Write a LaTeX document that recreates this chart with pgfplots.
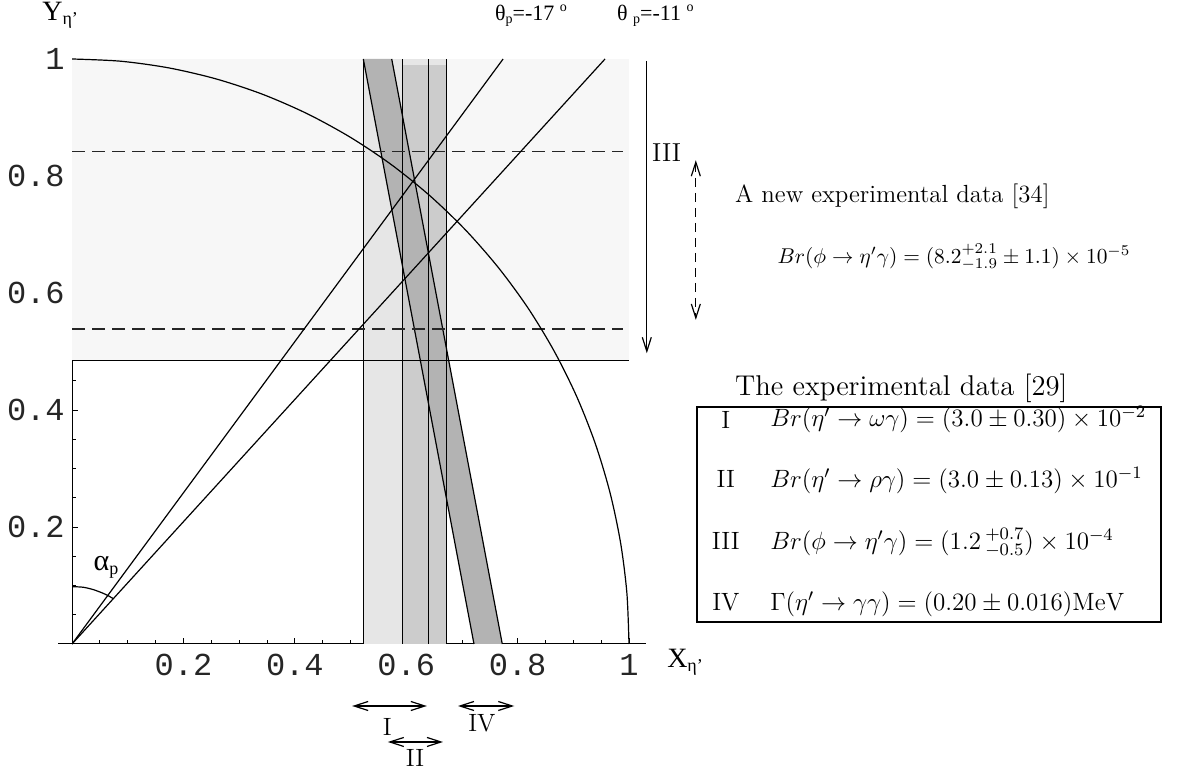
\RequirePackage{fix-cm}
\documentclass[border=0pt]{standalone}
\usepackage{fontspec}
\usepackage{pgfplots}
\pgfplotsset{compat=1.18}
\usetikzlibrary{arrows.meta}
\newfontfamily\tms{Liberation Serif}
\newfontfamily\cour{Liberation Mono}
\definecolor{bgband}{HTML}{F7F7F7}
\definecolor{bandI}{HTML}{E6E6E6}
\definecolor{bandII}{HTML}{CCCCCC}
\definecolor{bandIV}{HTML}{B3B3B3}
\newcommand{\fs}[1]{\fontsize{#1}{1.2\dimexpr #1pt\relax}\selectfont}

\begin{document}
\begin{tikzpicture}[>={Straight Barb[length=7pt,width=4.5pt]}]
\begin{axis}[
    at={(0,0)}, anchor=south west,
    scale only axis, width=293.8pt, height=292.5pt,
    xmin=-0.025, xmax=1.03, ymin=0, ymax=1,
    axis lines=middle, axis line style={-, line width=0.5pt},
    clip=false,
    xtick={0.2,0.4,0.6,0.8,1}, ytick={0.2,0.4,0.6,0.8,1},
    xticklabels={0.2,0.4,0.6,0.8,1}, yticklabels={0.2,0.4,0.6,0.8,1},
    minor xtick={0.05,0.1,0.15,0.25,0.3,0.35,0.45,0.5,0.55,0.65,0.7,0.75,0.85,0.9,0.95},
    minor ytick={0.05,0.1,0.15,0.25,0.3,0.35,0.45,0.5,0.55,0.65,0.7,0.75,0.85,0.9,0.95},
    tick align=inside, major tick length=3pt, minor tick length=2pt,
    tick style={line width=0.4pt, black},
    ticklabel style={font=\cour\fs{16}, inner sep=0pt, text=black!85},
    xticklabel style={anchor=north, yshift=-5pt},
    yticklabel style={anchor=east, xshift=-3.5pt},
]
% shaded region above the lower bound of III
\addplot[fill=bgband, draw=none] coordinates {(0,0.484) (0,1) (1,1) (1,0.484)} -- cycle;
% bands I and II
\addplot[fill=bandI, draw=none] coordinates {(0.523,0) (0.523,1) (0.673,1) (0.673,0)} -- cycle;
\addplot[fill=bandII, draw=none] coordinates {(0.594,0) (0.594,0.99) (0.673,0.99) (0.673,0)} -- cycle;
% band IV
\addplot[fill=bandIV, draw=none] coordinates {(0.523,1) (0.574,1) (0.7725,0) (0.7217,0)} -- cycle;
\addplot[black, line width=0.6pt] coordinates {(0.523,1) (0.7217,0)};
\addplot[black, line width=0.6pt] coordinates {(0.574,1) (0.7725,0)};
% band edges
\addplot[black, line width=0.6pt] coordinates {(0.523,0) (0.523,1)};
\addplot[black, line width=0.6pt] coordinates {(0.594,0) (0.594,1)};
\addplot[black, line width=0.6pt] coordinates {(0.640,0) (0.640,1)};
\addplot[black, line width=0.6pt] coordinates {(0.673,0) (0.673,1)};
% bounds from III and the new data
\addplot[black, line width=0.6pt] coordinates {(0,0.484) (1,0.484)};
\addplot[black!85, line width=0.6pt, dash pattern=on 6.5pt off 3.5pt] coordinates {(0,0.8415) (0.989,0.8415)};
\addplot[black!85, line width=0.6pt, dash pattern=on 6.5pt off 3.5pt] coordinates {(0,0.5385) (0.989,0.5385)};
% lines for theta_p = -17 and -11 degrees
\addplot[black, line width=0.6pt] coordinates {(0,0) (0.774,1)};
\addplot[black, line width=0.6pt] coordinates {(0,0) (0.957,1)};
% unit circle
\addplot[black, line width=0.6pt, smooth] coordinates {
    (0,1) (0.0872,0.9962) (0.1736,0.9848) (0.2588,0.9659) (0.3420,0.9397)
    (0.4226,0.9063) (0.5,0.8660) (0.5736,0.8192) (0.6428,0.7660) (0.7071,0.7071)
    (0.7660,0.6428) (0.8192,0.5736) (0.8660,0.5) (0.9063,0.4226) (0.9397,0.3420)
    (0.9659,0.2588) (0.9848,0.1736) (0.9962,0.0872) (1,0)
};
% alpha_p arc
\addplot[black, line width=0.6pt, smooth] coordinates {
    (0,0.098) (0.02,0.097) (0.038,0.093) (0.055,0.087) (0.066,0.082) (0.074,0.0775)
};

% labels
\node[anchor=base west, inner sep=0pt] at (axis cs:-0.054,1.065) {\tms\fs{14}Y\raisebox{-0.3ex}{\fs{9}η’}};
\node[anchor=base west, inner sep=0pt] at (axis cs:1.068,-0.041) {\tms\fs{14}X\raisebox{-0.3ex}{\fs{9}η’}};
\node[anchor=base west, inner sep=0pt] at (axis cs:0.759,1.065) {\tms\fs{11}θ\raisebox{-0.25ex}{\fs{7}p}=-17 \raisebox{0.9ex}{\fs{7}o}};
\node[anchor=base west, inner sep=0pt] at (axis cs:0.978,1.065) {\tms\fs{11}θ \raisebox{-0.25ex}{\fs{7}p}=-11 \raisebox{0.9ex}{\fs{7}o}};
\node[anchor=base west, inner sep=0pt] at (axis cs:0.038,0.126) {\tms\fs{15}α\raisebox{-0.3ex}{\fs{9}p}};

% III arrows
\draw[->, line width=0.6pt] (axis cs:1.032,0.9966) -- (axis cs:1.032,0.497);
\node[anchor=base west, inner sep=0pt] at (axis cs:1.041,0.824) {\fs{13}III};
\draw[<->, line width=0.6pt, dash pattern=on 4.5pt off 3pt] (axis cs:1.120,0.827) -- (axis cs:1.120,0.554);
\node[anchor=base west, inner sep=0pt] at (axis cs:1.190,0.754) {\fs{12.4}A new experimental data [34]};
\node[anchor=base west, inner sep=0pt] at (axis cs:1.266,0.651) {\fs{10.7}$Br(\phi\to\eta'\gamma)=(8.2^{+2.1}_{-1.9}\pm1.1)\times10^{-5}$};

% experimental data box
\node[anchor=base west, inner sep=0pt] at (axis cs:1.190,0.4256) {\fs{14.3}The experimental data [29]};
\draw[line width=1pt] (axis cs:1.122,0.405) rectangle (axis cs:1.955,0.0376);
\node[anchor=base, inner sep=0pt] at (axis cs:1.174,0.369) {\fs{12.5}I};
\node[anchor=base, inner sep=0pt] at (axis cs:1.174,0.2667) {\fs{12.5}II};
\node[anchor=base, inner sep=0pt] at (axis cs:1.174,0.1607) {\fs{12.5}III};
\node[anchor=base, inner sep=0pt] at (axis cs:1.174,0.0564) {\fs{12.5}IV};
\node[anchor=base west, inner sep=0pt] at (axis cs:1.253,0.372) {\fs{12.5}$Br(\eta'\to\omega\gamma)=(3.0\pm0.30)\times10^{-2}$};
\node[anchor=base west, inner sep=0pt] at (axis cs:1.253,0.2667) {\fs{12.5}$Br(\eta'\to\rho\gamma)=(3.0\pm0.13)\times10^{-1}$};
\node[anchor=base west, inner sep=0pt] at (axis cs:1.253,0.1607) {\fs{12.5}$Br(\phi\to\eta'\gamma)=(1.2\,{}^{+0.7}_{-0.5})\times10^{-4}$};
\node[anchor=base west, inner sep=0pt] at (axis cs:1.253,0.0564) {\fs{12.5}$\Gamma(\eta'\to\gamma\gamma)=(0.20\pm0.016)\mathrm{MeV}$};

% ranges of I, II, IV below the axis
\draw[<->, line width=0.6pt] (axis cs:0.503,-0.106) -- (axis cs:0.637,-0.106);
\node[anchor=base, inner sep=0pt] at (axis cs:0.566,-0.1556) {\fs{12.5}I};
\draw[<->, line width=0.6pt] (axis cs:0.567,-0.1675) -- (axis cs:0.666,-0.1675);
\node[anchor=base, inner sep=0pt] at (axis cs:0.616,-0.210) {\fs{12.5}II};
\draw[<->, line width=0.6pt] (axis cs:0.693,-0.106) -- (axis cs:0.794,-0.106);
\node[anchor=base, inner sep=0pt] at (axis cs:0.736,-0.150) {\fs{12.5}IV};
\end{axis}
\pgfresetboundingbox
\path[use as bounding box] (-29.05pt,-65pt) rectangle (566.45pt,322pt);
\end{tikzpicture}
\end{document}
